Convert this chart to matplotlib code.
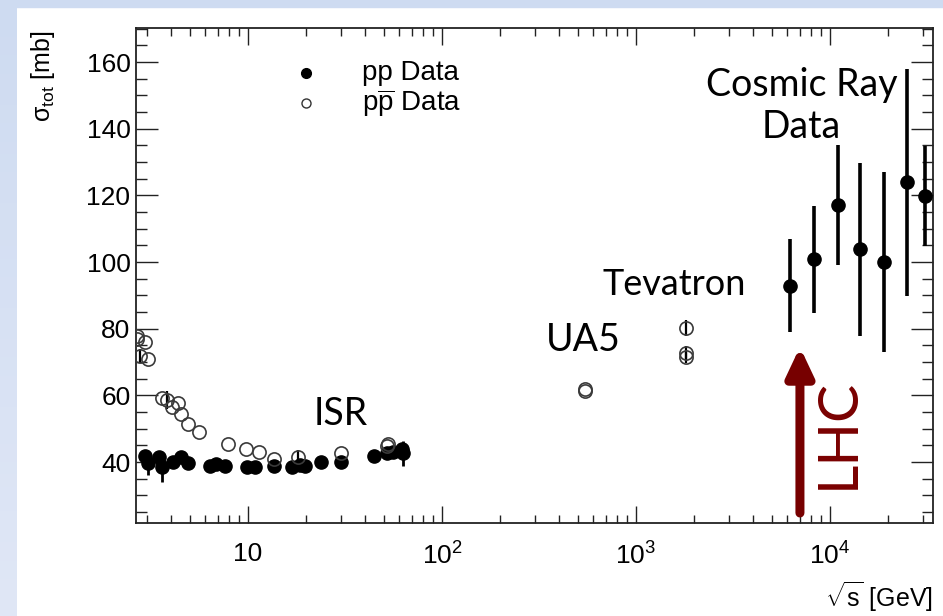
import numpy as np
import matplotlib
matplotlib.use("Agg")
import matplotlib.pyplot as plt
from matplotlib.patches import Rectangle

plt.rcParams['font.family'] = ['Liberation Sans', 'DejaVu Sans']
plt.rcParams['mathtext.fontset'] = 'custom'
plt.rcParams['mathtext.rm'] = 'Liberation Sans'
plt.rcParams['mathtext.it'] = 'Liberation Sans:italic'
plt.rcParams['mathtext.sf'] = 'Liberation Sans'

# pp data (accelerators: ISR and below)
pp_x = [2.94, 3.07, 3.47, 3.59, 4.13, 4.53, 4.92, 6.37, 6.84, 7.61, 9.85, 10.9,
        13.6, 16.8, 18.5, 19.7, 23.7, 30.1, 44.6, 51.9, 56.0, 62.5, 63.1]
pp_y = [41.9, 39.6, 41.6, 38.6, 40.1, 41.6, 39.6, 38.9, 39.4, 38.9, 38.6, 38.6,
        38.9, 38.6, 39.1, 38.9, 40.1, 40.1, 41.8, 42.6, 43.0, 43.8, 42.6]
pp_err = [0.5, 3.5, 0.5, 4.5, 0.5, 0.5, 0.5, 0.3, 0.3, 0.3, 0.3, 0.3,
          0.3, 0.3, 0.3, 0.3, 0.3, 0.3, 0.3, 0.3, 0.3, 0.5, 3.8]

# p-pbar data
ppbar_x = [2.67, 2.69, 2.94, 2.77, 3.07, 3.59, 3.84, 4.04, 4.38, 4.50, 4.92, 5.61,
           7.9, 9.77, 11.4, 13.6, 18.2, 30.1, 52.2, 53.0, 546, 546, 1800, 1800, 1800]
ppbar_y = [77.8, 76.8, 76.1, 71.8, 70.9, 59.3, 58.6, 56.4, 57.6, 54.3, 51.4, 49.0,
           45.5, 43.8, 43.0, 40.8, 41.4, 42.6, 44.8, 45.4, 61.9, 61.3, 80.1, 72.8, 71.4]
ppbar_err = [0, 0, 0, 2.2, 0, 0, 2.6, 0, 0, 0, 0, 0,
             0, 0, 0, 0, 2.2, 0, 0, 0, 0, 0, 2.4, 2.0, 1.6]

# cosmic ray data
cr_x = [6220, 8270, 10970, 14330, 18980, 25050, 30770]
cr_y = [92.9, 100.8, 117.1, 103.8, 100.1, 123.9, 119.9]
cr_err = [14, 16, 18, 26, 27, 34, 15]

lhc_energy = 7000

fig = plt.figure(figsize=(9.43, 6.16), dpi=100)
fig.patch.set_facecolor('white')

# light blue slide frame
bg = fig.add_axes([0, 0, 17 / 943, 1])
grad = np.linspace(0, 1, 100).reshape(-1, 1)
bg.imshow(grad, aspect='auto', cmap=matplotlib.colors.LinearSegmentedColormap.from_list(
    'frame', ['#cedbf1', '#e0e7f6']), extent=[0, 1, 0, 1])
bg.axis('off')
fig.patches.append(Rectangle((0, 1 - 7 / 616), 1, 7 / 616, transform=fig.transFigure,
                             color='#cedbf1', zorder=0))

ax = fig.add_axes([136 / 943, 93 / 616, 797 / 943, 495.5 / 616])
ax.set_xscale('log')
ax.set_xlim(2.647, 33960)
ax.set_ylim(21.7, 170.35)

ax.errorbar(pp_x, pp_y, yerr=pp_err, fmt='o', color='black', ms=9.5,
            elinewidth=2, capsize=0, zorder=3)
ax.errorbar(ppbar_x, ppbar_y, yerr=ppbar_err, fmt='o', mfc='none', mec='#3a3a3a',
            mew=1.2, ms=9.5, ecolor='black', elinewidth=1.6, capsize=0, zorder=4)
ax.errorbar(cr_x, cr_y, yerr=cr_err, fmt='o', color='black', ms=9.5,
            elinewidth=2.6, capsize=0, zorder=3)

# legend
leg_x = 10 ** (1 + (306 - 248) / 194)
txt_x = 10 ** (1 + (362 - 248) / 194)
ax.plot([leg_x], [156.7], 'o', color='black', ms=7)
ax.plot([leg_x], [147.7], 'o', mfc='none', mec='#333333', mew=1.0, ms=6.5)
ax.text(txt_x, 156.7, 'pp Data', fontsize=20, va='center')
ax.text(txt_x, 147.7, r'p$\overline{\mathrm{p}}$ Data', fontsize=20, va='center')

# annotations
ann = dict(family=['Lato', 'DejaVu Sans'], color='black')
ax.text(10 ** 3.853, 153.1, 'Cosmic Ray', fontsize=27, ha='center', va='center', **ann)
ax.text(10 ** 3.85, 140.5, 'Data', fontsize=27, ha='center', va='center', **ann)
ax.text(10 ** 3.196, 93.3, 'Tevatron', fontsize=26, ha='center', va='center', **ann)
ax.text(10 ** 2.73, 76.6, 'UA5', fontsize=27, ha='center', va='center', **ann)
ax.text(10 ** 1.48, 54.3, 'ISR', fontsize=27, ha='center', va='center', **ann)

ax.annotate('', xy=(lhc_energy, 74.5), xytext=(lhc_energy, 24.7),
            arrowprops=dict(arrowstyle='-|>,head_length=1.7,head_width=0.8',
                            color='#770000', lw=6.5, shrinkA=0, shrinkB=0))
ax.text(10 ** 4.04, 48.5, 'LHC', rotation=90, fontsize=41, color='#7a0000',
        ha='center', va='center', family=['Lato', 'DejaVu Sans'])

# ROOT-like axes
for s in ax.spines.values():
    s.set_linewidth(1.3)
    s.set_color('#222222')
ax.set_yticks([40, 60, 80, 100, 120, 140, 160])
ax.set_yticks(np.arange(25, 171, 5), minor=True)
ax.set_xticks([10, 100, 1000, 10000])
ax.set_xticklabels(['10', r'10$^{2}$', r'10$^{3}$', r'10$^{4}$'])
ax.tick_params(axis='both', which='both', direction='in', top=True, right=True,
               color='#222222', width=1.0, labelsize=19)
ax.tick_params(axis='y', which='major', length=16, pad=4)
ax.tick_params(axis='y', which='minor', length=8)
ax.tick_params(axis='x', which='major', length=12, pad=14)
ax.tick_params(axis='x', which='minor', length=6)

fig.text(43 / 943, 1 - 30 / 616, 'σ$_{\\mathrm{tot}}$ [mb]', rotation=90,
         fontsize=18, ha='center', va='top')
fig.text(933 / 943, 1 - 597 / 616, r'$\sqrt{\mathrm{s}}$ [GeV]', fontsize=18,
         ha='right', va='center')

fig.savefig('out.png', dpi=100)
